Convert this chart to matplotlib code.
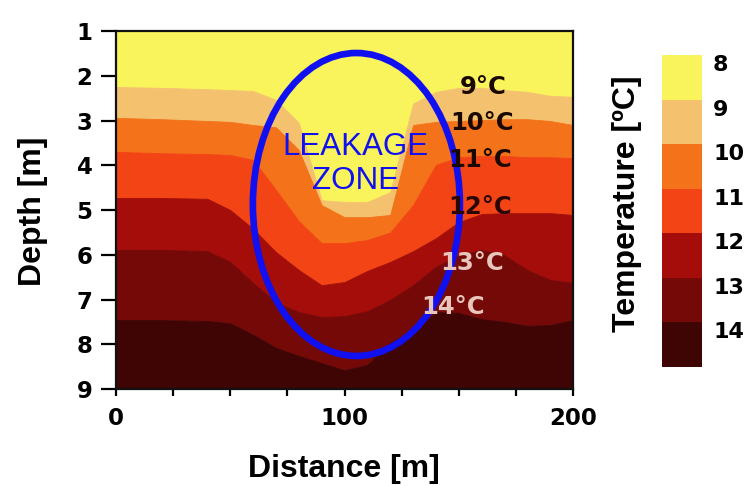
import matplotlib
matplotlib.use("Agg")
import matplotlib.pyplot as plt
import matplotlib as mpl
from matplotlib.patches import Ellipse
from matplotlib.colors import ListedColormap, BoundaryNorm

# ---------------- data ----------------
distance = [0, 20, 40, 50, 60, 70, 80, 90, 100, 110, 120, 130, 140, 150, 160, 170, 180, 190, 200]
iso_9 = [2.25, 2.27, 2.30, 2.32, 2.34, 2.54, 3.05, 4.78, 4.82, 4.82, 4.60, 2.62, 2.36, 2.27, 2.27, 2.32, 2.36, 2.45, 2.47]
iso_10 = [2.94, 2.97, 3.01, 3.03, 3.10, 3.15, 3.66, 4.89, 5.16, 5.16, 5.11, 3.10, 3.03, 3.01, 2.99, 2.97, 2.97, 3.01, 3.10]
iso_11 = [3.70, 3.73, 3.75, 3.77, 3.88, 4.55, 5.25, 5.74, 5.74, 5.67, 5.50, 4.89, 3.99, 3.82, 3.79, 3.79, 3.82, 3.82, 3.84]
iso_12 = [4.73, 4.73, 4.75, 5.00, 5.42, 5.94, 6.34, 6.68, 6.61, 6.36, 6.16, 5.92, 5.63, 5.27, 5.09, 5.07, 5.07, 5.07, 5.11]
iso_13 = [5.89, 5.89, 5.92, 6.16, 6.63, 7.06, 7.28, 7.39, 7.37, 7.26, 7.01, 6.68, 6.27, 6.01, 5.89, 6.01, 6.34, 6.56, 6.63]
iso_14 = [7.46, 7.46, 7.48, 7.53, 7.79, 8.08, 8.26, 8.42, 8.58, 8.46, 7.97, 7.70, 7.28, 7.30, 7.44, 7.50, 7.59, 7.57, 7.46]
isotherms = [iso_9, iso_10, iso_11, iso_12, iso_13, iso_14]

temp_levels = [8, 9, 10, 11, 12, 13, 14, 15]
cbar_ticks = [8, 9, 10, 11, 12, 13, 14]
band_colors = ["#f9f45c", "#f4c26e", "#f4721a", "#f24414", "#a40d0a", "#740908", "#3f0505"]

contour_labels = ["9°C", "10°C", "11°C", "12°C", "13°C", "14°C"]
contour_label_colors = ["#1a0800", "#1a0800", "#1a0800", "#2a0603", "#e8c6bc", "#e8c6bc"]
label_pos = [(160.6, 2.25), (160.2, 3.06), (159.3, 3.88), (159.3, 4.93), (155.8, 6.18), (147.5, 7.17)]

depth_min, depth_max = 1, 9
x_ticks = [0, 25, 50, 75, 100, 125, 150, 175, 200]
x_ticklabels = ["0", "", "", "", "100", "", "", "", "200"]
y_ticks = [1, 2, 3, 4, 5, 6, 7, 8, 9]

# ---------------- figure ----------------
fig = plt.figure(figsize=(7.49, 4.86), dpi=100)
ax = fig.add_axes([116 / 749, 1 - 389 / 486, (573 - 116) / 749, (389 - 31) / 486])

tops = [[depth_min] * len(distance)] + isotherms
bottoms = isotherms + [[depth_max] * len(distance)]
for top, bot, col in zip(tops, bottoms, band_colors):
    ax.fill_between(distance, top, bot, color=col, linewidth=0.6, edgecolor=col)

ax.set_xlim(0, 200)
ax.set_ylim(depth_max, depth_min)

ax.set_xticks(x_ticks)
ax.set_xticklabels(x_ticklabels)
ax.set_yticks(y_ticks)
ax.tick_params(axis="y", length=11, width=1.6, pad=6, labelsize=16.5)
ax.tick_params(axis="x", length=5, width=1.6, pad=8, labelsize=16.5)
for lab in ax.get_xticklabels() + ax.get_yticklabels():
    lab.set_fontweight("bold")
    lab.set_family("DejaVu Sans")
for sp in ax.spines.values():
    sp.set_linewidth(1.6)
    sp.set_color("#111111")

# contour labels
for txt, col, (xd, yd) in zip(contour_labels, contour_label_colors, label_pos):
    ax.text(xd, yd, txt, color=col, fontsize=17.5, fontweight="bold",
            family="DejaVu Sans", ha="center", va="center")

# leakage ellipse and text
ax.add_patch(Ellipse((105.2, 4.877), 90.6, 6.77, fill=False, edgecolor="#1010f0", linewidth=4.8))
ax.text(104.6, 3.97, "LEAKAGE\nZONE", color="#1010f0", fontsize=22.5, family="Liberation Sans",
        ha="center", va="center", multialignment="center")

# axis labels
fig.text(344 / 749, 1 - 469 / 486, "Distance [m]", fontsize=23, fontweight="bold",
         family="Liberation Sans", ha="center", va="center")
fig.text(33 / 749, 1 - 211 / 486, "Depth [m]", fontsize=23, fontweight="bold",
         family="Liberation Sans", ha="center", va="center", rotation=90)
fig.text(627 / 749, 1 - 204 / 486, "Temperature [ºC]", fontsize=23, fontweight="bold",
         family="Liberation Sans", ha="center", va="center", rotation=90)

# colorbar
cax = fig.add_axes([662 / 749, 1 - 367 / 486, 40 / 749, 312 / 486])
cmap = ListedColormap(band_colors)
norm = BoundaryNorm(temp_levels, cmap.N)
cb = mpl.colorbar.Colorbar(cax, cmap=cmap, norm=norm, orientation="vertical", ticks=cbar_ticks)
cb.outline.set_visible(False)
cax.minorticks_off()
cax.invert_yaxis()
cax.tick_params(which="both", length=0, pad=8, labelsize=16)
for lab in cax.get_yticklabels():
    lab.set_fontweight("bold")
    lab.set_family("DejaVu Sans")
    lab.set_verticalalignment("top")

fig.savefig("out.png", dpi=100)
